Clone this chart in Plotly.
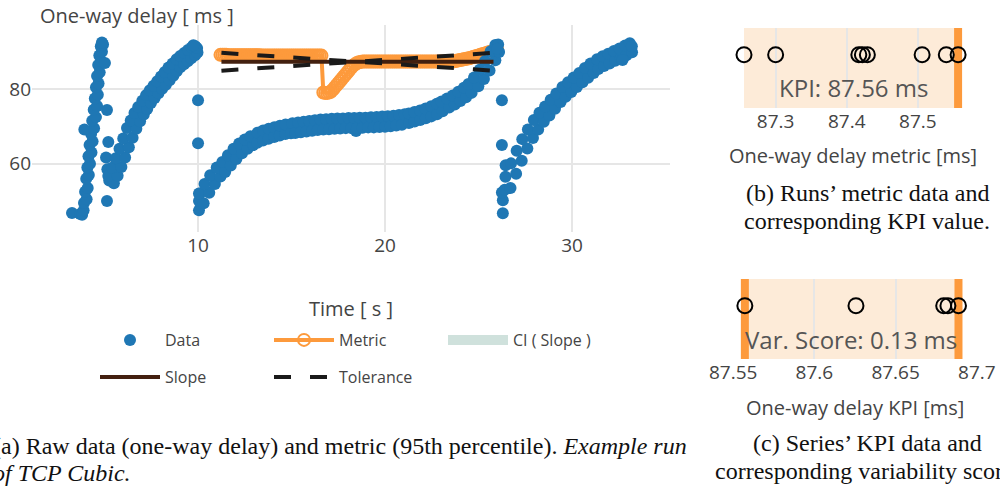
import plotly.graph_objects as go

# ---------------- data ----------------
# Raw one-way delay samples, one list per TCP Cubic sawtooth
seg1_time = [3.26, 3.70, 3.80, 3.88, 3.90, 4.04, 3.96, 4.10, 4.02, 4.16, 4.08, 4.22, 4.14, 4.30, 4.20,
             4.36, 4.28, 3.92, 4.44, 4.34, 4.54, 4.42, 4.60, 4.48, 4.64, 4.54, 4.68, 4.60, 4.74, 4.66,
             4.82, 4.72, 4.86, 4.80, 4.92, 4.86, 5.02, 5.13,
             5.13, 5.08, 5.20, 5.15, 5.25]
seg1_delay = [46.8, 46.5, 46.3, 47.5, 49.5, 50.5, 52.5, 53.5, 56.0, 57.0, 59.0, 60.0, 62.0, 63.0, 65.0,
              66.0, 68.0, 69.2, 69.5, 71.5, 72.5, 74.5, 75.5, 77.5, 78.5, 80.5, 81.5, 83.5, 84.5, 86.5,
              87.5, 89.0, 90.0, 91.5, 92.0, 92.5, 87.0, 74.4,
              50.0, 61.7, 65.8, 58.5, 55.5]

seg2_time = [5.50, 5.20, 5.70, 5.40, 5.90, 5.60, 6.10, 5.80, 6.30, 6.00, 6.50, 6.20, 6.70, 6.40, 6.90,
             6.60, 7.10, 6.80, 7.28, 7.02, 7.48, 7.22, 7.68, 7.42, 7.88, 7.62, 8.08, 7.82, 8.28, 8.02,
             8.48, 8.22, 8.68, 8.42, 8.86, 8.64, 9.05, 8.85, 9.25, 9.05, 9.45, 9.26, 9.64, 9.46, 9.84,
             9.66, 9.97, 9.85, 9.95, 9.75,
             10.00, 10.00]
seg2_delay = [54.8, 56.7, 56.8, 58.9, 59.1, 61.5, 61.7, 64.0, 64.4, 66.8, 67.0, 69.6, 69.4, 71.6, 71.4,
              73.6, 73.2, 75.2, 74.7, 76.9, 76.3, 78.4, 77.6, 79.7, 78.9, 80.9, 80.1, 82.1, 81.2, 83.4,
              82.4, 84.6, 83.6, 85.8, 84.8, 86.9, 85.9, 88.0, 86.7, 88.9, 87.5, 89.7, 88.3, 90.5, 89.1,
              91.2, 89.8, 91.5, 91.0, 91.8,
              77.0, 65.5]

seg3_time = [10.05, 10.05, 10.10,
             10.30, 10.05, 10.60, 10.35, 10.90, 10.65, 11.20, 11.00, 11.45, 11.30, 11.75, 11.60, 12.05,
             11.90, 12.35, 12.20, 12.65, 12.50, 12.95, 12.80, 13.17, 13.18, 13.47, 13.48, 13.77, 13.78,
             14.07, 14.08, 14.37, 14.38, 14.67, 14.68, 14.97,
             15.05, 15.20, 15.35, 15.50, 15.65, 15.80, 15.95, 16.10, 16.25, 16.40, 16.55, 16.70, 16.85,
             17.00, 17.15, 17.30, 17.45, 17.60, 17.75, 17.90, 18.05, 18.20, 18.35, 18.45, 18.50, 18.65,
             18.80, 18.95, 19.10, 19.25, 19.40, 19.55, 19.70, 19.85, 20.00, 20.15, 20.30, 20.45, 20.60,
             20.75, 20.90, 21.05,
             21.28, 21.27, 21.58, 21.57, 21.88, 21.87, 22.18, 22.17, 22.48, 22.47, 22.78, 22.77, 23.08,
             23.02, 23.43, 23.32, 23.73, 23.62, 24.03, 23.92, 24.33, 24.22, 24.63,
             24.46, 24.99, 24.76, 25.29, 25.06, 25.59,
             25.35, 25.90, 25.65, 26.10, 25.90, 26.05, 26.00]
seg3_delay = [47.5, 50.0, 52.0,
              49.4, 52.0, 52.2, 54.6, 54.6, 56.9, 56.6, 59.0, 57.8, 60.5, 59.5, 62.3, 61.3,
              64.0, 62.8, 65.4, 64.0, 66.5, 65.0, 67.4, 65.6, 68.3, 66.2, 68.9, 66.7, 69.4,
              67.2, 69.8, 67.6, 70.2, 68.0, 70.5, 68.2,
              70.85, 68.25, 71.05, 68.45, 71.25, 68.65, 71.45, 68.85, 71.65, 69.05, 71.85, 69.15, 71.95,
              69.25, 72.05, 69.35, 72.15, 69.45, 72.15, 69.55, 72.25, 69.55, 72.25, 68.8, 69.55, 72.35,
              69.65, 72.35, 69.75, 72.45, 69.75, 72.55, 69.85, 72.65, 69.95, 72.75, 70.05, 72.85, 70.25,
              73.05, 70.45, 73.25,
              70.9, 73.5, 71.3, 73.9, 71.7, 74.3, 72.2, 74.8, 72.7, 75.4, 73.3, 76.1, 74.1,
              76.7, 75.1, 77.5, 75.9, 78.3, 76.8, 79.3, 77.8, 80.4, 79.0,
              81.4, 80.8, 83.1, 82.7, 85.2, 85.0,
              87.55, 87.75, 90.15, 89.95, 91.85, 92.0, 90.8]

seg4_time = [26.25, 26.25, 26.45,
             26.30, 26.30, 26.25, 26.40,
             26.71, 26.44, 27.01, 26.74, 27.31, 27.04, 27.61, 27.34, 27.91, 27.64, 28.19, 27.96, 28.49,
             28.26, 28.79, 28.56, 29.09, 28.86, 29.39, 29.16, 29.66, 29.49, 29.96, 29.79, 30.26, 30.09,
             30.56, 30.39, 30.86, 30.69, 31.16, 30.99, 31.41, 31.34, 31.71, 31.64, 32.01, 31.94, 32.31,
             32.24, 32.61, 32.54, 32.91, 32.84, 33.21, 33.09, 33.20, 32.70]
seg4_delay = [77.0, 65.0, 59.6,
              46.7, 50.2, 52.3, 53.0,
              53.5, 56.5, 57.3, 60.1, 60.8, 63.5, 64.1, 66.6, 66.9, 69.2, 69.15, 71.75, 71.25,
              73.65, 72.95, 75.35, 74.75, 77.15, 76.55, 78.85, 77.95, 80.55, 79.25, 81.85, 80.55, 83.15,
              81.85, 84.35, 83.05, 85.65, 84.35, 86.85, 85.4, 88.0, 86.2, 88.8, 86.9, 89.5, 87.6,
              90.2, 88.3, 90.9, 89.1, 91.7, 89.9, 92.3, 91.5, 87.8]

data_time = seg1_time + seg2_time + seg3_time + seg4_time
data_delay = seg1_delay + seg2_delay + seg3_delay + seg4_delay

metric_time = [
    11.2, 11.3, 11.4, 11.5, 11.6, 11.7, 11.8, 11.9, 12.0,
    12.1, 12.2, 12.3, 12.4, 12.5, 12.6, 12.7, 12.8, 12.9, 13.0,
    13.1, 13.2, 13.3, 13.4, 13.5, 13.6, 13.7, 13.8, 13.9, 14.0,
    14.1, 14.2, 14.3, 14.4, 14.5, 14.6, 14.7, 14.8, 14.9, 15.0,
    15.1, 15.2, 15.3, 15.4, 15.5, 15.6, 15.7, 15.8, 15.9, 16.0,
    16.1, 16.2, 16.3, 16.4, 16.5, 16.6,
    16.7, 16.8, 16.9, 17.0,
    17.1, 17.2, 17.3, 17.4, 17.5, 17.6, 17.7, 17.8, 17.9, 18.0,
    18.1, 18.2, 18.3, 18.4, 18.5, 18.6, 18.7, 18.8,
    18.9, 19.0, 19.1, 19.2, 19.3, 19.4, 19.5, 19.6, 19.7, 19.8, 19.9, 20.0,
    20.1, 20.2, 20.3, 20.4, 20.5, 20.6, 20.7, 20.8, 20.9, 21.0, 21.1, 21.2,
    21.3, 21.4, 21.5, 21.6, 21.7, 21.8, 21.9, 22.0, 22.1, 22.2, 22.3, 22.4,
    22.5, 22.6, 22.7, 22.8, 22.9, 23.0, 23.1, 23.2, 23.3, 23.4, 23.5, 23.6,
    23.7, 23.8, 23.9, 24.0, 24.1, 24.2, 24.3, 24.4, 24.5, 24.6, 24.7, 24.8,
    24.9, 25.0, 25.1, 25.2, 25.3, 25.4, 25.5, 25.6, 25.7, 25.8, 25.9, 26.0,
]
metric_value = [
    89.2, 89.2, 89.2, 89.2, 89.1, 89.1, 89.1, 89.1, 89.1,
    89.1, 89.1, 89.1, 89.1, 89.1, 89.1, 89.1, 89.1, 89.1, 89.1,
    89.1, 89.1, 89.1, 89.0, 89.0, 89.0, 89.0, 89.0, 89.0, 89.0,
    89.0, 89.0, 89.0, 89.0, 89.0, 89.0, 89.0, 89.0, 89.0, 89.0,
    89.0, 89.0, 89.0, 89.0, 89.0, 89.0, 89.0, 89.0, 89.0, 89.0,
    89.0, 89.0, 89.0, 89.0, 89.0, 89.0,
    79.1, 79.0, 79.0, 79.1,
    79.3, 79.8, 80.4, 81.0, 81.6, 82.2, 82.8, 83.4, 84.0, 84.6,
    85.2, 85.8, 86.3, 86.7, 87.0, 87.2, 87.3, 87.4,
    87.4, 87.4, 87.4, 87.4, 87.4, 87.4, 87.4, 87.4, 87.4, 87.4, 87.4, 87.4,
    87.4, 87.4, 87.4, 87.4, 87.4, 87.4, 87.4, 87.4, 87.4, 87.4, 87.4, 87.4,
    87.4, 87.4, 87.4, 87.4, 87.4, 87.4, 87.4, 87.4, 87.4, 87.4, 87.4, 87.4,
    87.4, 87.4, 87.4, 87.4, 87.4, 87.4, 87.4, 87.4, 87.4, 87.4, 87.4, 87.4,
    87.5, 87.6, 87.7, 87.8, 87.9, 88.0, 88.1, 88.2, 88.3, 88.45, 88.6, 88.75,
    88.9, 89.05, 89.2, 89.35, 89.5, 89.65, 89.8, 89.95, 90.1, 90.25, 90.4, 90.55,
]

slope_time = [11.25, 25.8]
slope_value = [87.35, 87.35]
ci_time = [19.0, 23.4]
ci_value = [87.4, 87.4]
tol_time = [11.25, 25.8, None, 11.25, 25.8]
tol_value = [89.75, 84.95, None, 84.95, 89.75]

run_metrics = [87.2555, 87.300, 87.417, 87.422, 87.429, 87.506, 87.540, 87.5566]
run_kpi = 87.5566
kpi_label = "KPI: 87.56 ms"

series_kpis = [87.5572, 87.6256, 87.6796, 87.6822, 87.6887]
var_label = "Var. Score: 0.13 ms"

main_xticks = [10, 20, 30]
main_yticks = [60, 80]
b_ticks = [87.3, 87.4, 87.5]
c_ticks = [87.55, 87.6, 87.65, 87.7]
strip_range = [-1, 0.5]

# ---------------- styling ----------------
W, H = 1000, 490
def px(x):
    return x / W
def py(y):
    return 1 - y / H

BLUE = "#1f77b4"
ORANGE = "#fd9a3c"
BEIGE = "#fdebd8"
BROWN = "#43200f"
GRID = "#e6e6e6"
TXT = "#444444"
FONT = "Open Sans"
SERIF = "Liberation Serif"

fig = go.Figure()

fig.add_trace(go.Scatter(
    x=ci_time, y=ci_value, mode="lines", name="CI ( Slope )",
    line=dict(color="#cfe1dc", width=12), legend="legend", legendrank=3, xaxis="x", yaxis="y"))
fig.add_trace(go.Scatter(
    x=metric_time, y=metric_value, mode="lines+markers", name="Metric",
    line=dict(color=ORANGE, width=4),
    marker=dict(symbol="circle-open", size=12, color=ORANGE, line=dict(width=2)),
    legend="legend", legendrank=2, xaxis="x", yaxis="y"))
fig.add_trace(go.Scatter(
    x=data_time, y=data_delay, mode="markers", name="Data",
    marker=dict(color=BLUE, size=12),
    legend="legend", legendrank=1, xaxis="x", yaxis="y"))
fig.add_trace(go.Scatter(
    x=slope_time, y=slope_value, mode="lines", name="Slope",
    line=dict(color=BROWN, width=4), legend="legend2", legendrank=4, xaxis="x", yaxis="y"))
fig.add_trace(go.Scatter(
    x=tol_time, y=tol_value, mode="lines", name="Tolerance",
    line=dict(color="#1a1a1a", width=4, dash="17px,19px"),
    legend="legend2", legendrank=5, xaxis="x", yaxis="y"))

# (b) runs' metric data with KPI marker
fig.add_trace(go.Scatter(
    x=[run_kpi, run_kpi], y=strip_range, mode="lines", showlegend=False,
    line=dict(color=ORANGE, width=8), xaxis="x2", yaxis="y2"))
fig.add_trace(go.Scatter(
    x=run_metrics, y=[0] * len(run_metrics), mode="markers", showlegend=False,
    marker=dict(symbol="circle-open", size=15, color="black", line=dict(width=2)),
    cliponaxis=False, xaxis="x2", yaxis="y2"))
# (c) series' KPI data with min / max markers
fig.add_trace(go.Scatter(
    x=[min(series_kpis), min(series_kpis), None, max(series_kpis), max(series_kpis)],
    y=[strip_range[0], strip_range[1], None, strip_range[0], strip_range[1]],
    mode="lines", showlegend=False, line=dict(color=ORANGE, width=8), xaxis="x3", yaxis="y3"))
fig.add_trace(go.Scatter(
    x=series_kpis, y=[0] * len(series_kpis), mode="markers", showlegend=False,
    marker=dict(symbol="circle-open", size=15, color="black", line=dict(width=2)),
    cliponaxis=False, xaxis="x3", yaxis="y3"))

tickfont = dict(family=FONT, size=19, color=TXT)
common = dict(showgrid=True, gridcolor=GRID, gridwidth=2, zeroline=False, showline=False,
              ticks="", tickfont=tickfont, automargin=False)
fig.update_layout(
    width=W, height=H, margin=dict(l=0, r=0, t=0, b=0),
    paper_bgcolor="white", plot_bgcolor="white",
    font=dict(family=FONT, color=TXT),
    xaxis=dict(domain=[px(32), px(670)], anchor="y", range=[1.12, 35.24], tickvals=main_xticks, **common),
    yaxis=dict(domain=[py(232), py(25)], anchor="x", range=[41.7, 97.2], tickvals=main_yticks, **common),
    xaxis2=dict(domain=[px(744), px(963)], anchor="y2", range=[87.2555, 87.5635], tickvals=b_ticks, **common),
    yaxis2=dict(domain=[py(108), py(28)], anchor="x2", range=strip_range, visible=False),
    xaxis3=dict(domain=[px(733), px(977)], anchor="y3", range=[87.5499, 87.7001], tickvals=c_ticks,
                ticktext=["87.55", "87.6", "87.65", "87.7"], **common),
    yaxis3=dict(domain=[py(359), py(279)], anchor="x3", range=strip_range, visible=False),
    legend=dict(orientation="h", x=px(95), y=py(323), xanchor="left", yanchor="top",
                font=dict(family=FONT, size=16, color=TXT), itemwidth=60, entrywidth=99,
                bgcolor="rgba(0,0,0,0)", borderwidth=0),
    legend2=dict(orientation="h", x=px(95), y=py(360), xanchor="left", yanchor="top",
                 font=dict(family=FONT, size=16, color=TXT), itemwidth=60, entrywidth=99,
                 bgcolor="rgba(0,0,0,0)", borderwidth=0),
    showlegend=True,
)

fig.update_layout(shapes=[
    dict(type="rect", xref="x2", yref="y2 domain", x0=min(run_metrics), x1=run_kpi, y0=0, y1=1,
         fillcolor=BEIGE, line=dict(width=0), layer="below"),
    dict(type="rect", xref="x3", yref="y3 domain", x0=min(series_kpis), x1=max(series_kpis), y0=0, y1=1,
         fillcolor=BEIGE, line=dict(width=0), layer="below"),
])

ann = []
def text(x, y, s, size, family=FONT, color=TXT, xanchor="center"):
    ann.append(dict(x=px(x), y=py(y), xref="paper", yref="paper", text=s, showarrow=False,
                    xanchor=xanchor, yanchor="middle",
                    font=dict(family=family, size=size, color=color)))

text(38, 15, "One-way delay [ ms ]", 20, xanchor="left")
text(351, 308, "Time [ s ]", 20)
text(853, 155, "One-way delay metric [ms]", 20)
text(855, 407, "One-way delay KPI [ms]", 20)
ann.append(dict(x=0.5, y=-0.62, xref="x2 domain", yref="y2", text=kpi_label, showarrow=False,
                xanchor="center", yanchor="middle", font=dict(family=FONT, size=24, color="#555555")))
ann.append(dict(x=(851 - 733) / 244, y=-0.64, xref="x3 domain", yref="y3", text=var_label,
                showarrow=False, xanchor="center", yanchor="middle",
                font=dict(family=FONT, size=24, color="#555555")))

CAP = "#111111"
text(867, 193, "(b) Runs’ metric data and", 24, SERIF, CAP)
text(867, 221, "corresponding KPI value.", 24, SERIF, CAP)
text(867, 443, "(c) Series’ KPI data and", 24, SERIF, CAP)
text(867, 471, "corresponding variability score.", 24, SERIF, CAP)
text(-9, 446, "(a) Raw data (one-way delay) and metric (95th percentile). <i>Example run</i>", 24,
     SERIF, CAP, xanchor="left")
text(-9, 473, "<i>of TCP Cubic.</i>", 24, SERIF, CAP, xanchor="left")

fig.update_layout(annotations=ann)
fig.write_html("out.html")
